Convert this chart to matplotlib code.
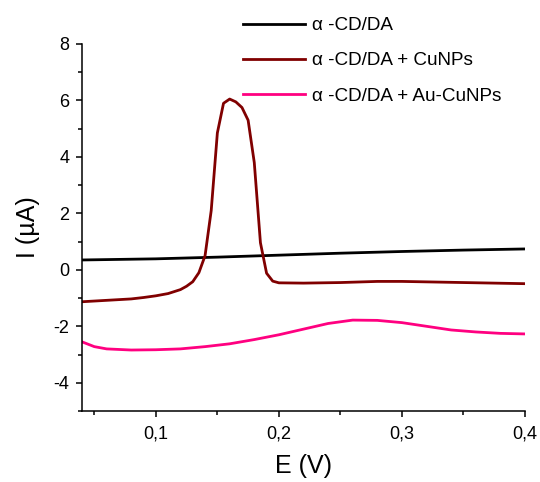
import matplotlib
matplotlib.use("Agg")
import matplotlib.pyplot as plt
from matplotlib.ticker import MultipleLocator, FuncFormatter

plt.rcParams['font.family'] = ['Liberation Sans', 'DejaVu Sans']

# Data
x_black = [0.04, 0.10, 0.15, 0.20, 0.25, 0.30, 0.35, 0.40]
y_black = [0.35, 0.39, 0.45, 0.52, 0.59, 0.65, 0.70, 0.74]

x_cu = [0.04, 0.06, 0.08, 0.09, 0.10, 0.11, 0.12, 0.125, 0.13, 0.135, 0.14,
        0.145, 0.15, 0.155, 0.16, 0.165, 0.17, 0.175, 0.18, 0.185, 0.19,
        0.195, 0.20, 0.22, 0.25, 0.28, 0.30, 0.35, 0.40]
y_cu = [-1.13, -1.08, -1.03, -0.98, -0.92, -0.84, -0.70, -0.58, -0.42, -0.10, 0.50,
        2.10, 4.85, 5.90, 6.05, 5.95, 5.75, 5.30, 3.80, 0.96, -0.12,
        -0.40, -0.46, -0.47, -0.45, -0.41, -0.41, -0.45, -0.49]

x_aucu = [0.04, 0.05, 0.06, 0.08, 0.10, 0.12, 0.14, 0.16, 0.18, 0.20, 0.22, 0.24,
          0.26, 0.28, 0.30, 0.32, 0.34, 0.36, 0.38, 0.40]
y_aucu = [-2.55, -2.72, -2.80, -2.84, -2.83, -2.80, -2.72, -2.62, -2.47, -2.30, -2.10, -1.90,
          -1.78, -1.79, -1.87, -2.00, -2.13, -2.20, -2.25, -2.27]

labels = ['α -CD/DA', 'α -CD/DA + CuNPs', 'α -CD/DA + Au-CuNPs']
colors = ['#000000', '#800000', '#FF0080']

fig = plt.figure(figsize=(5.4, 4.82), dpi=100)
ax = fig.add_axes([82/540, 1-411/482, (525-82)/540, (411-44)/482])

ax.plot(x_black, y_black, color=colors[0], lw=2.0, label=labels[0])
ax.plot(x_cu, y_cu, color=colors[1], lw=2.0, label=labels[1])
ax.plot(x_aucu, y_aucu, color=colors[2], lw=2.0, label=labels[2])

ax.set_xlim(0.04, 0.40)
ax.set_ylim(-5, 8)
ax.spines['top'].set_visible(False)
ax.spines['right'].set_visible(False)
for s in ['left', 'bottom']:
    ax.spines[s].set_linewidth(1.1)

ax.xaxis.set_major_locator(MultipleLocator(0.1))
ax.xaxis.set_minor_locator(MultipleLocator(0.05))
ax.yaxis.set_major_locator(MultipleLocator(2))
ax.yaxis.set_minor_locator(MultipleLocator(1))
ax.xaxis.set_major_formatter(FuncFormatter(lambda v, p: f"{v:.1f}".replace('.', ',')))
ax.yaxis.set_major_formatter(FuncFormatter(lambda v, p: f"{v:.0f}".replace('−', '-')))
ax.tick_params(which='major', direction='out', length=4.5, width=1.1, labelsize=13)
ax.tick_params(axis='x', which='major', pad=6)
ax.tick_params(axis='y', which='major', pad=4.5)
ax.tick_params(which='minor', direction='out', length=3, width=1.1)

ax.set_xlabel('E (V)', fontsize=18, labelpad=8)
ax.set_ylabel('I (µA)', fontsize=18, labelpad=10)

leg = fig.legend(loc='upper left', bbox_to_anchor=(243/540, 1-17/482), frameon=False,
                 fontsize=13.6, handlelength=3.3, handletextpad=0.35, labelspacing=0.95,
                 borderpad=0, borderaxespad=0)

fig.savefig('out.png', dpi=100)
